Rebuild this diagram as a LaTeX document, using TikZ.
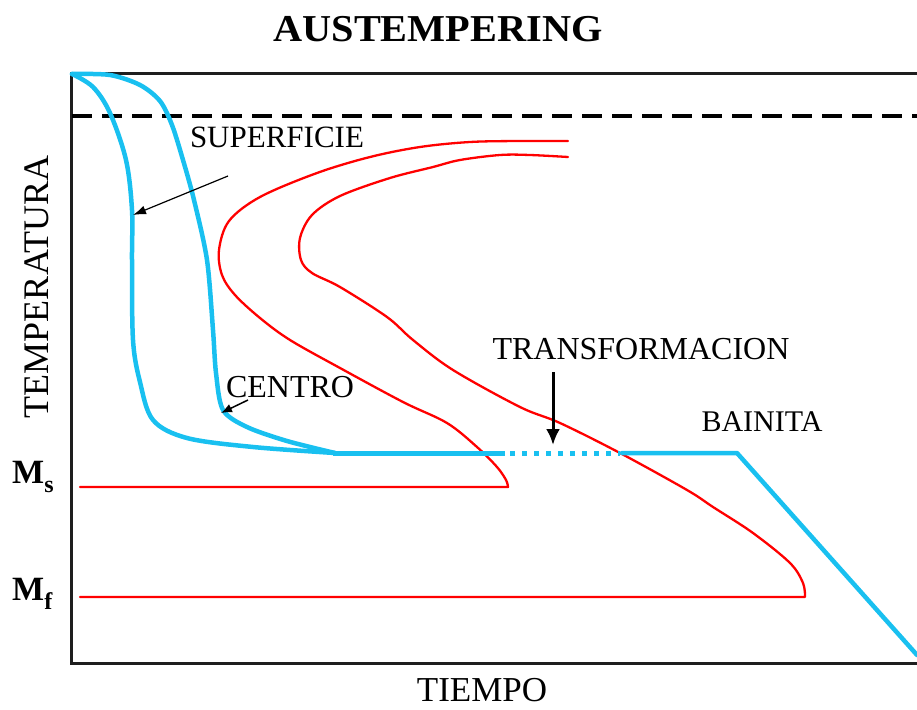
\documentclass[tikz,border=0pt]{standalone}
\usepackage{fontspec}
\setmainfont{Liberation Serif}
\usetikzlibrary{arrows.meta}
\definecolor{cyanb}{RGB}{25,192,240}
\definecolor{axisc}{RGB}{30,30,30}
\begin{document}
\begin{tikzpicture}[x=1pt,y=-1pt,
  lbl/.style={inner sep=0pt, anchor=center},
  redc/.style={draw=red, line width=2.3pt, line join=round, line cap=round},
  bluec/.style={draw=cyanb, line width=4.5pt, line join=round, line cap=round},
  thinarrow/.style={draw=black, line width=1.2pt, -{Latex[length=13pt,width=9pt]}},
  fatarrow/.style={draw=black, line width=3pt, -{Latex[length=16pt,width=14pt]}}]
\useasboundingbox (0,0) rectangle (917,709);
% axes
\draw[line width=3pt, axisc] (917,73) -- (71,73) -- (71,663) -- (917,663);
\draw[line width=4pt, dash pattern=on 20pt off 10pt] (72,116) -- (917,116);
% red curves
\draw[redc] plot[smooth, tension=0.55] coordinates {(568,141) (520,141) (470,142) (420,147) (370,157) (317,173) (260,197) (229,221) (219,250) (222,275) (235,295) (260,318) (290,340) (340,368) (403,402) (447,423) (477,447) (497,467) (506,480) (508,487)} -- (80,487);
\draw[redc] plot[smooth, tension=0.55] coordinates {(568,157) (530,155) (500,155) (460,160) (433,167) (390,178) (340,196) (312,215) (300,238) (301,260) (312,273) (340,287) (387,317) (413,340) (453,370) (520,407) (560,423) (620,453) (687,490) (713,507) (753,533) (790,563) (803,583) (805,597)} -- (80,597);
% blue curves
\draw[bluec] plot[smooth, tension=0.55] coordinates {(72,74) (93,87) (110,113) (126,160) (132,210) (132,260) (133,340) (140,382) (153,420) (187,438) (253,447) (335,453)};
\draw[bluec] plot[smooth, tension=0.5] coordinates {(72,74) (110,75) (140,85) (160,101) (172,125) (183,160) (194,200) (207,260) (213,330) (216,373) (223,410) (247,427) (287,441) (335,453)};
\draw[bluec, line width=5pt, line cap=butt] (333,453) -- (505,453);
\draw[draw=cyanb, line width=5pt, dash pattern=on 5pt off 7pt] (510,453) -- (620,453);
\draw[bluec] (622,453) -- (737,453) -- (917,655);
% labels
\node[lbl, font=\fontsize{38}{40}\selectfont\bfseries] (title) at (438,29) {\scalebox{1.06}[1]{AUSTEMPERING}};
\node[lbl, font=\fontsize{36}{38}\selectfont, rotate=90] (ylab) at (37,287) {TEMPERATURA};
\node[lbl, font=\fontsize{35}{37}\selectfont] (xlab) at (482,690) {TIEMPO};
\node[lbl, font=\fontsize{31}{33}\selectfont] (sup) at (277,137) {SUPERFICIE};
\node[lbl, font=\fontsize{32}{34}\selectfont] (cen) at (290,387) {CENTRO};
\node[lbl, font=\fontsize{32}{34}\selectfont] (tra) at (641,349) {TRANSFORMACION};
\node[lbl, font=\fontsize{30}{32}\selectfont] (bai) at (762,422) {BAINITA};
\node[inner sep=0pt, anchor=base west, font=\fontsize{34}{36}\selectfont\bfseries] (ms) at (12,483) {M\raisebox{-9pt}{\fontsize{24}{24}\selectfont s}};
\node[inner sep=0pt, anchor=base west, font=\fontsize{34}{36}\selectfont\bfseries] (mf) at (12,600) {M\raisebox{-9pt}{\fontsize{24}{24}\selectfont f}};
% arrows
\coordinate (supS) at (228,176);
\coordinate (supT) at (133,215);
\coordinate (cenS) at (248,400);
\coordinate (cenT) at (221,413);
\coordinate (traS) at (553,372);
\coordinate (traT) at (553,445);
\draw[thinarrow] (supS) -- (supT);
\draw[draw=black, line width=1.5pt, -{Latex[length=11pt,width=9pt]}] (cenS) -- (cenT);
\draw[fatarrow] (traS) -- (traT);
\end{tikzpicture}
\end{document}
